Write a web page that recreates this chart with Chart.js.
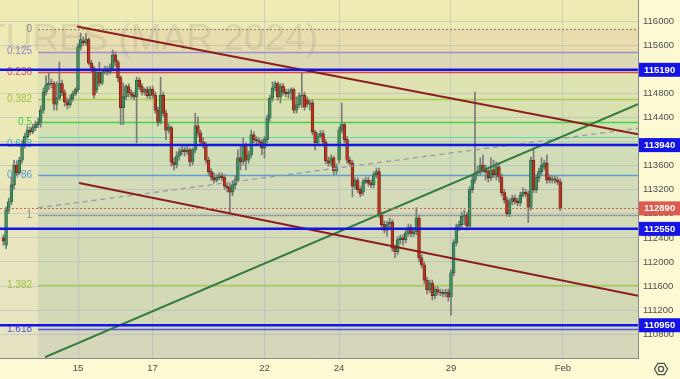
<!DOCTYPE html>
<html>
<head>
<meta charset="utf-8">
<script src="https://cdn.jsdelivr.net/npm/chart.js@4.4.1/dist/chart.umd.min.js"></script>
<style>
  html, body { margin: 0; padding: 0; background: #fdf9d2; }
  canvas { display: block; }
</style>
</head>
<body>
<canvas id="chart" width="680" height="379"></canvas>
<script>
// hourly candles, 14 per session: Jan 11, 12, 15..19, 22..26, 29..31
const opens = [
  112400, 112280, 112860, 113000, 113280, 113610, 113480, 113690, 113940, 114080,
  114190, 114160, 114230, 114280, 114320, 114520, 114820, 114940, 114970, 114960,
  114620, 114720, 114960, 114810, 114660, 114610, 114710, 114790, 114860, 115570,
  115670, 115640, 115690, 115300, 115220, 114860, 115150, 114970, 115150, 115200,
  115150, 115220, 115440, 115320, 115060, 114560, 114740, 114910, 114810, 114770,
  114740, 115020, 114910, 114820, 114860, 114760, 114870, 114770, 114520, 114320,
  114770, 114470, 114190, 114230, 113660, 113610, 113760, 113830, 113860, 113830,
  113860, 113660, 113860, 114260, 114140, 113990, 113940, 113690, 113500, 113410,
  113360, 113400, 113430, 113400, 113260, 113230, 113160, 113280, 113360, 113730,
  113660, 113930, 113690, 113780, 114110, 114030, 114010, 113990, 113890, 114030,
  114390, 114720, 114890, 114960, 114740, 114920, 114820, 114790, 114820, 114860,
  114520, 114610, 114760, 114770, 114690, 114620, 114640, 114160, 113980, 114090,
  114130, 113990, 113680, 113640, 113730, 113510, 113690, 114190, 114280, 114030,
  113690, 113640, 113260, 113350, 113200, 113160, 113330, 113360, 113310, 113280,
  113450, 113500, 112780, 112620, 112530, 112630, 112660, 112230, 112170, 112370,
  112400, 112370, 112480, 112570, 112470, 112500, 112730, 112070, 111950, 111700,
  111540, 111650, 111440, 111540, 111500, 111490, 111470, 111500, 111420, 111820,
  112320, 112580, 112620, 112760, 112780, 112600, 113200, 113360, 113480, 113500,
  113610, 113530, 113500, 113400, 113530, 113450, 113580, 113410, 113150, 113030,
  112800, 113000, 113060, 113010, 112980, 113110, 113160, 113130, 112910, 113690,
  113200, 113400, 113500, 113580, 113640, 113400, 113360, 113380, 113360, 113330
];
const highs = [
  112450, 112910, 113060, 113410, 113690, 113680, 113740, 114010, 114140, 114260,
  114240, 114290, 114340, 114390, 114590, 114890, 115090, 115140, 115040, 115000,
  114990, 115320, 115020, 114860, 114720, 114770, 114840, 114890, 115620, 115800,
  115740, 115790, 115720, 115350, 115250, 115200, 115320, 115190, 115250, 115250,
  115290, 115520, 115490, 115350, 115090, 114970, 114940, 114960, 114860, 114820,
  115070, 115060, 114960, 114890, 114910, 114910, 114920, 114820, 114570, 115070,
  114820, 114520, 114290, 114260, 113730, 113830, 113890, 113930, 113910, 113940,
  113890, 113890, 114470, 114410, 114190, 114060, 113990, 113740, 113550, 113480,
  113450, 113480, 113480, 113450, 113310, 113300, 113350, 113430, 113860, 113930,
  114060, 113980, 113840, 114190, 114160, 114080, 114060, 114040, 114080, 114440,
  114770, 114990, 115000, 114990, 114960, 114960, 114870, 114870, 114890, 114890,
  114740, 114810, 115140, 114820, 114740, 114690, 114690, 114190, 114140, 114180,
  114180, 114030, 113740, 113780, 113760, 113630, 114240, 114640, 114320, 114080,
  113740, 113690, 113400, 113400, 113250, 113380, 113410, 113410, 113360, 113500,
  113560, 113560, 112830, 112680, 112680, 112730, 112700, 112280, 112420, 112450,
  112450, 112530, 112630, 112620, 112570, 112900, 112780, 112120, 112000, 111750,
  111700, 111700, 111590, 111590, 111550, 111540, 111550, 111550, 111870, 112370,
  112630, 112680, 112830, 112860, 112830, 113250, 113430, 114820, 113590, 113730,
  113780, 113610, 113560, 113730, 113690, 113660, 113640, 113460, 113200, 113080,
  113050, 113110, 113110, 113060, 113160, 113230, 113210, 113180, 113740, 113890,
  113450, 113560, 113730, 113690, 113780, 113450, 113430, 113430, 113410, 113380
];
const lows = [
  112280, 112220, 112810, 112950, 113210, 113430, 113450, 113640, 113890, 114040,
  114110, 114130, 114180, 114230, 114240, 114470, 114770, 114860, 114890, 114520,
  114520, 114690, 114760, 114590, 114540, 114570, 114670, 114760, 114820, 115520,
  115590, 115600, 115270, 115150, 114720, 114810, 114920, 114940, 115120, 115100,
  115120, 115190, 115250, 114990, 114280, 114280, 114690, 114740, 114720, 114690,
  113980, 114860, 114770, 114770, 114720, 114710, 114720, 114470, 114260, 114290,
  114420, 114030, 114140, 113590, 113530, 113560, 113690, 113780, 113760, 113790,
  113590, 113610, 113810, 114090, 113940, 113890, 113640, 113450, 113360, 113310,
  113330, 113360, 113350, 113200, 113160, 112810, 113100, 113210, 113330, 113530,
  113610, 113530, 113640, 113730, 113980, 113960, 113940, 113780, 113730, 113980,
  114340, 114670, 114840, 114690, 114640, 114770, 114740, 114720, 114690, 114470,
  114470, 114560, 114560, 114520, 114570, 114520, 114110, 113860, 113930, 114060,
  113940, 113630, 113590, 113590, 113450, 113460, 113640, 114140, 113980, 113640,
  113590, 113080, 113210, 113150, 113080, 113110, 113300, 113260, 113230, 113230,
  113400, 112730, 112530, 112480, 112430, 112570, 112180, 112070, 112120, 112300,
  112280, 112320, 112430, 112420, 112420, 112450, 112000, 111900, 111640, 111470,
  111490, 111370, 111390, 111450, 111440, 111420, 111420, 111350, 111120, 111770,
  112270, 112520, 112570, 112620, 112530, 112550, 113150, 113310, 113430, 113450,
  113480, 113360, 113330, 113350, 113400, 113360, 113330, 113100, 112980, 112760,
  112750, 112950, 112960, 112930, 112930, 113080, 113080, 112660, 112860, 113150,
  113150, 113330, 113450, 113530, 113310, 113310, 113310, 113310, 113280, 112850
];
const closes = [
  112350, 112860, 113000, 113280, 113610, 113480, 113690, 113940, 114080, 114190,
  114160, 114230, 114280, 114320, 114520, 114820, 114940, 114970, 114960, 114620,
  114720, 114960, 114810, 114660, 114610, 114710, 114790, 114860, 115570, 115690,
  115640, 115690, 115300, 115220, 114770, 115150, 114970, 115150, 115200, 115150,
  115220, 115440, 115320, 115060, 114560, 114740, 114910, 114810, 114770, 114740,
  115020, 114910, 114820, 114860, 114760, 114870, 114770, 114520, 114320, 114770,
  114470, 114190, 114240, 113660, 113610, 113760, 113830, 113860, 113830, 113860,
  113660, 113860, 114260, 114140, 113990, 113940, 113690, 113500, 113410, 113360,
  113400, 113430, 113400, 113260, 113230, 113160, 113280, 113360, 113730, 113660,
  113930, 113690, 113780, 114110, 114030, 114010, 113990, 113890, 114030, 114390,
  114720, 114890, 114960, 114740, 114920, 114820, 114790, 114820, 114860, 114520,
  114610, 114760, 114770, 114570, 114620, 114640, 114160, 113980, 114090, 114130,
  113990, 113680, 113640, 113730, 113510, 113580, 114190, 114280, 114030, 113690,
  113640, 113260, 113350, 113200, 113130, 113330, 113360, 113310, 113280, 113450,
  113500, 112780, 112620, 112530, 112630, 112660, 112230, 112170, 112370, 112400,
  112370, 112480, 112570, 112470, 112500, 112730, 112070, 111950, 111700, 111540,
  111650, 111440, 111540, 111500, 111490, 111470, 111500, 111420, 111820, 112320,
  112580, 112620, 112760, 112780, 112600, 113200, 113360, 113480, 113500, 113610,
  113530, 113500, 113400, 113530, 113450, 113580, 113410, 113150, 113030, 112800,
  113000, 113060, 113010, 112980, 113110, 113160, 113130, 112910, 113690, 113200,
  113400, 113500, 113610, 113640, 113360, 113360, 113380, 113360, 113330, 112890
];

// axis ticks
const dayTicks  = [28, 56, 98, 126, 168, 210];
const dayLabels = ["15", "17", "22", "24", "29", "Feb"];
const priceTicks = [110800, 111200, 111600, 112000, 112400, 112800, 113200,
                    113600, 114000, 114400, 114800, 115200, 115600, 116000];

// fibonacci grid (drawn from bar 13 to the right edge)
const fibStart  = 13;
const fibNames  = ["0", "0.125", "0.236", "0.382", "0.5", "0.618", "0.786", "1", "1.382", "1.618"];
const fibPrices = [115870, 115490, 115150, 114700, 114320, 113960, 113440, 112780, 111610, 110880];
const fibExtra  = 114080;

// horizontal levels with price tags
const blueLevels = [115190, 113940, 112550, 110950];
const lastPrice  = 112890;

// trend lines: [bar index], [price]
const upperX = [27.6, 238.2],  upperY = [115910, 114120];
const lowerX = [28.4, 238.2],  lowerY = [113310, 111440];
const greenX = [15.6, 238.2],  greenY = [110420, 114620];
const dashX  = [13.0, 238.2],  dashY  = [112900, 114220];

// --- styles ---------------------------------------------------------
const S = {
  up: "#3f8f60", upEdge: "#1f4d33", down: "#b8361f", downEdge: "#5e1408", wick: "#7a7a7a",
  maroon: "#8c1d1d", green: "#2f7a3c", dash: "#9a9a9a",
  blue: "#1414e6", red: "#dc5a4e", grid: "rgba(150,168,195,0.38)", text: "#4d4d4d",
};
const fibLine  = ["#8a8a8a", "#9b8fd2", "#e24848", "#a8cf55", "#46d246", "#4fc6a6", "#5aa0d2", "#9a9a9a", "#a8cf55", "#5656e0"];
const fibLabel = ["#8a8a8a", "#8c80cc", "#e24848", "#9cc23e", "#3ccc3c", "#3db9a8", "#4a9ad2", "#8a8a8a", "#9cc23e", "#5050d8"];
const zoneFill = ["#e9ddad", "#ddd8b5", "#dfe2b1", "#d8e1af", "#d2e0b3", "#d1ddb7", "#d3dbb8", "#d4d9b6", "#d3d9b6", "#d5d6ba"];

const pts = (xs, ys) => xs.map((x, i) => ({ x, y: ys[i] }));
const isUp = (i) => closes[i] >= opens[i];

const paint = {
  id: "paint",
  beforeDraw(chart) {
    const { ctx, chartArea: a, scales: { x, y } } = chart;
    ctx.save();
    ctx.fillStyle = "#fdf9d2";
    ctx.fillRect(0, 0, chart.width, chart.height);
    const g = ctx.createLinearGradient(0, a.top, 0, a.bottom);
    g.addColorStop(0, "#efebb3");
    g.addColorStop(1, "#e5e3c3");
    ctx.fillStyle = g;
    ctx.fillRect(a.left, a.top, a.width, a.height);
    const x0 = x.getPixelForValue(fibStart);
    fibPrices.forEach((p, i) => {
      const top = y.getPixelForValue(p);
      const bot = i + 1 < fibPrices.length ? y.getPixelForValue(fibPrices[i + 1]) : a.bottom;
      ctx.fillStyle = zoneFill[i];
      ctx.fillRect(x0, top, a.right - x0, bot - top);
    });
    ctx.restore();
  },
  beforeDatasetsDraw(chart) {
    const { ctx, chartArea: a, scales: { x, y } } = chart;
    ctx.save();
    ctx.beginPath(); ctx.rect(a.left, a.top, a.width, a.height); ctx.clip();
    // watermark
    ctx.font = '37px "Liberation Sans", Arial, sans-serif';
    ctx.fillStyle = "rgba(120,120,120,0.17)";
    ctx.textAlign = "right"; ctx.textBaseline = "alphabetic";
    ctx.fillText("FUTURES (MAR 2024)", 318, 50);
    // fib levels
    const x0 = x.getPixelForValue(fibStart);
    const hline = (p, col, w, dash) => {
      const py = Math.round(y.getPixelForValue(p)) + 0.5;
      ctx.strokeStyle = col; ctx.lineWidth = w; ctx.setLineDash(dash || []);
      ctx.beginPath(); ctx.moveTo(x0, py); ctx.lineTo(a.right, py); ctx.stroke();
    };
    hline(fibExtra, "#6fd0b4", 1.2);
    fibPrices.forEach((p, i) => hline(p, fibLine[i], i === 0 ? 1.2 : 1.5, i === 0 ? [2, 2] : null));
    ctx.setLineDash([]);
    ctx.font = '10px "Liberation Sans", Arial, sans-serif';
    ctx.textAlign = "right"; ctx.textBaseline = "middle";
    fibPrices.forEach((p, i) => {
      ctx.fillStyle = fibLabel[i];
      ctx.fillText(fibNames[i], 32, y.getPixelForValue(p));
    });
    ctx.restore();
  },
  afterDatasetsDraw(chart) {
    const { ctx, chartArea: a, scales: { y } } = chart;
    ctx.save();
    blueLevels.forEach((p) => {
      const py = y.getPixelForValue(p);
      ctx.strokeStyle = S.blue; ctx.lineWidth = 2.5;
      ctx.beginPath(); ctx.moveTo(a.left, py); ctx.lineTo(a.right, py); ctx.stroke();
    });
    const ly = Math.round(y.getPixelForValue(lastPrice)) + 0.5;
    ctx.strokeStyle = S.red; ctx.lineWidth = 1; ctx.setLineDash([2, 2]);
    ctx.beginPath(); ctx.moveTo(a.left, ly); ctx.lineTo(a.right, ly); ctx.stroke();
    ctx.restore();
  },
  afterDraw(chart) {
    const { ctx, chartArea: a, scales: { y } } = chart;
    ctx.save();
    ctx.font = 'bold 9.5px "Liberation Sans", Arial, sans-serif';
    ctx.textAlign = "left"; ctx.textBaseline = "middle";
    const tag = (p, bg) => {
      const py = y.getPixelForValue(p);
      ctx.fillStyle = bg;
      ctx.fillRect(a.right + 1, py - 7, chart.width - a.right - 1, 14);
      ctx.fillStyle = "#fff";
      ctx.fillText(String(p), a.right + 6, py + 0.5);
    };
    blueLevels.forEach((p) => tag(p, S.blue));
    tag(lastPrice, S.red);
    // settings glyph
    const cx = 661, cy = 369;
    ctx.strokeStyle = "#555"; ctx.lineWidth = 1.3;
    ctx.beginPath();
    for (let k = 0; k < 6; k++) {
      const t = Math.PI / 3 * k;
      const px = cx + 6.5 * Math.cos(t), py = cy + 6.5 * Math.sin(t);
      k ? ctx.lineTo(px, py) : ctx.moveTo(px, py);
    }
    ctx.closePath(); ctx.stroke();
    ctx.beginPath(); ctx.arc(cx, cy, 2.6, 0, Math.PI * 2); ctx.stroke();
    ctx.restore();
  },
};

Chart.defaults.font.family = '"Liberation Sans", Arial, sans-serif';
Chart.defaults.color = S.text;

new Chart(document.getElementById("chart"), {
  type: "bar",
  data: {
    datasets: [
      { type: "line", data: pts(upperX, upperY), borderColor: S.maroon, borderWidth: 2, pointRadius: 0, order: 0 },
      { type: "line", data: pts(lowerX, lowerY), borderColor: S.maroon, borderWidth: 2, pointRadius: 0, order: 0 },
      { type: "line", data: pts(greenX, greenY), borderColor: S.green, borderWidth: 2, pointRadius: 0, order: 0 },
      { type: "line", data: pts(dashX, dashY), borderColor: S.dash, borderWidth: 1.3, borderDash: [5, 4], pointRadius: 0, order: 0 },
      { data: opens.map((o, i) => ({ x: i, y: [o, closes[i]] })),
        backgroundColor: opens.map((o, i) => (isUp(i) ? S.up : S.down)),
        borderColor: opens.map((o, i) => (isUp(i) ? S.upEdge : S.downEdge)),
        borderWidth: 0.6, borderSkipped: false,
        barThickness: 2.8, grouped: false, order: 1 },
      { data: highs.map((h, i) => ({ x: i, y: [lows[i], h] })),
        backgroundColor: S.wick, barThickness: 1, grouped: false, order: 2 },
    ],
  },
  options: {
    responsive: false,
    maintainAspectRatio: false,
    animation: false,
    layout: { padding: 0, autoPadding: false },
    plugins: { legend: { display: false }, tooltip: { enabled: false } },
    scales: {
      x: {
        type: "linear", position: "bottom", min: -1.28, max: 238.2, offset: false,
        grid: { color: S.grid, drawTicks: false, offset: false },
        border: { color: "#8a8a8a" },
        afterBuildTicks: (s) => { s.ticks = dayTicks.map((v) => ({ value: v })); },
        afterFit: (s) => { s.height = 21; s.paddingLeft = 0; s.paddingRight = 0; },
        ticks: { autoSkip: false, maxRotation: 0, padding: 5, font: { size: 9.5 },
                 callback: (v) => dayLabels[dayTicks.indexOf(v)] || "" },
      },
      y: {
        type: "linear", position: "right", min: 110406, max: 116349,
        grid: { color: S.grid, drawTicks: false },
        border: { color: "#8a8a8a" },
        afterBuildTicks: (s) => { s.ticks = priceTicks.map((v) => ({ value: v })); },
        afterFit: (s) => { s.width = 42; s.paddingTop = 0; s.paddingBottom = 0; },
        ticks: { padding: 5, font: { size: 9.5 }, callback: (v) => String(v) },
      },
    },
  },
  plugins: [paint],
});
</script>
</body>
</html>
